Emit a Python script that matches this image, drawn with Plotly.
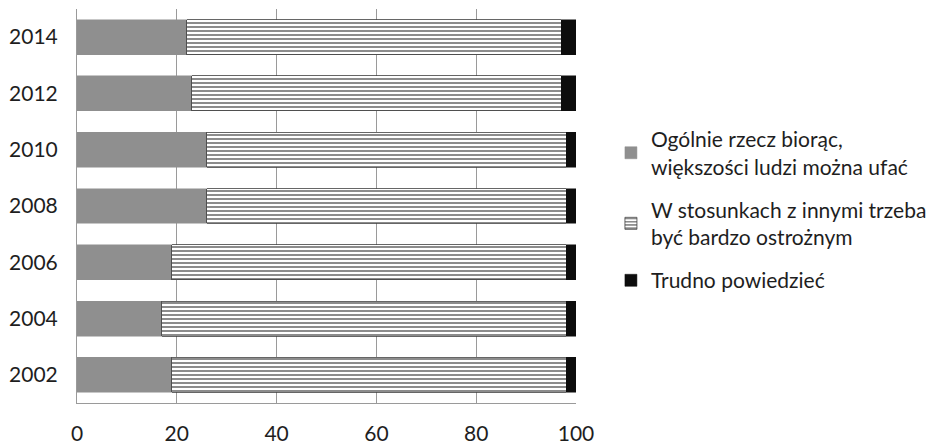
import plotly.graph_objects as go

# Survey years and shares (%) of each answer
years = ["2002", "2004", "2006", "2008", "2010", "2012", "2014"]
trust = [19, 17, 19, 26, 26, 23, 22]
careful = [79, 81, 79, 72, 72, 74, 75]
hard_to_say = [2, 2, 2, 2, 2, 3, 3]

names = [
    "Ogólnie rzecz biorąc,<br>większości ludzi można ufać",
    "W stosunkach z innymi trzeba<br>być bardzo ostrożnym",
    "Trudno powiedzieć",
]
x_ticks = [0, 20, 40, 60, 80, 100]

FONT = "Lato, Carlito, 'Liberation Sans', sans-serif"
TXT = "#1e1e1e"

fig = go.Figure()
fig.add_trace(go.Bar(
    y=years, x=trust, orientation="h", name=names[0], legendgroup="a",
    marker=dict(color="#8f8f8f", line=dict(color="#8f8f8f", width=0.5)),
))
fig.add_trace(go.Bar(
    y=years, x=careful, orientation="h", name=names[1], legendgroup="b",
    marker=dict(
        color="white",
        line=dict(color="#404040", width=0.8),
        pattern=dict(shape="-", fgcolor="#1a1a1a", bgcolor="white",
                     size=4, solidity=0.5, fillmode="overlay"),
    ),
))
fig.add_trace(go.Bar(
    y=years, x=hard_to_say, orientation="h", name=names[2], legendgroup="c",
    marker=dict(color="#0d0d0d", line=dict(color="#0d0d0d", width=0.5)),
))

fig.update_layout(
    width=938, height=444,
    barmode="stack",
    bargap=0.38,
    plot_bgcolor="white",
    paper_bgcolor="white",
    margin=dict(l=77, r=362, t=9, b=41, autoexpand=False),
    font=dict(family=FONT, size=21, color=TXT),
    showlegend=True,
    legend=dict(
        x=1.070, xanchor="left", y=0.49, yanchor="middle",
        traceorder="grouped",
        font=dict(family=FONT, size=21, color=TXT),
        tracegroupgap=13,
        itemwidth=30,
        bgcolor="rgba(0,0,0,0)",
    ),
    xaxis=dict(
        range=[0, 100],
        tickvals=x_ticks,
        ticktext=[str(v) for v in x_ticks],
        showgrid=True, gridcolor="#9a9a9a", gridwidth=1,
        zeroline=False,
        showline=True, linecolor="#9a9a9a", linewidth=1,
        ticks="", ticklabelstandoff=12, automargin=False,
        tickfont=dict(family=FONT, size=21, color=TXT),
        fixedrange=True,
    ),
    yaxis=dict(
        categoryorder="array", categoryarray=years,
        showgrid=False, zeroline=False,
        showline=True, linecolor="#9a9a9a", linewidth=1,
        ticks="", ticklabelstandoff=14, automargin=False,
        tickfont=dict(family=FONT, size=21, color=TXT),
        fixedrange=True,
    ),
)

fig.write_html("out.html")
